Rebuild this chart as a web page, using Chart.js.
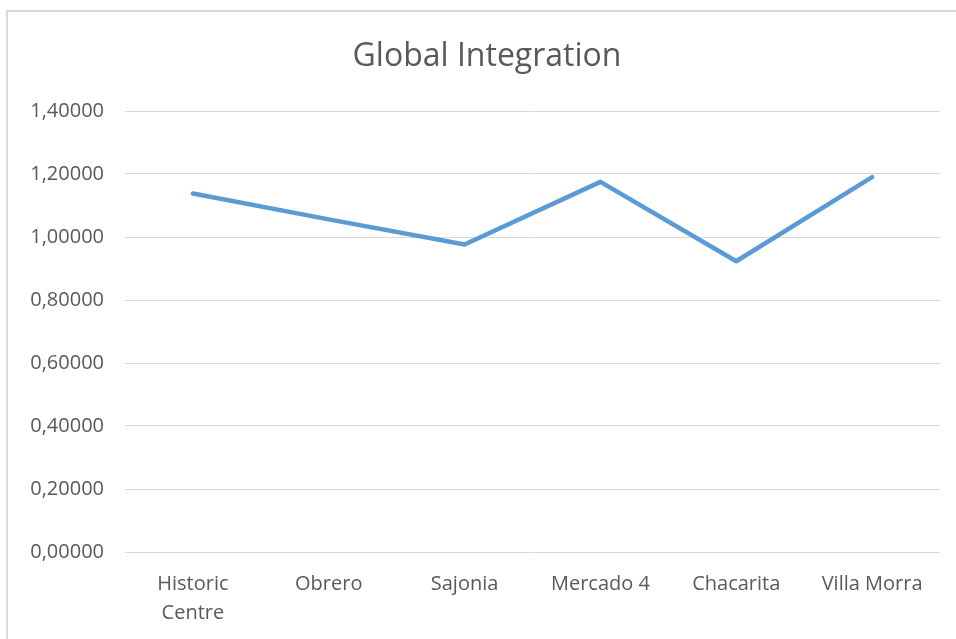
<!DOCTYPE html>
<html>
<head>
<meta charset="utf-8">
<script src="https://cdn.jsdelivr.net/npm/chart.js@4.4.0/dist/chart.umd.min.js"></script>
<style>
    html, body { margin: 0; padding: 0; background: #fff; }
    .frame {
        position: absolute; left: 6px; top: 10px; width: 960px; height: 640px;
        border-left: 2px solid #d9d9d9; border-top: 2px solid #d9d9d9;
        box-sizing: border-box;
    }
    .wrap { position: absolute; left: 0; top: 0; width: 956px; height: 639px; }
</style>
</head>
<body>
<div class="frame"></div>
<div class="wrap"><canvas id="integrationChart" width="956" height="639"></canvas></div>
<script>
let districts = [['Historic', 'Centre'], 'Obrero', 'Sajonia', 'Mercado 4', 'Chacarita', 'Villa Morra'];
let globalIntegration = [1.138, 1.056, 0.976, 1.175, 0.923, 1.190];
let yTicks = [0, 0.2, 0.4, 0.6, 0.8, 1.0, 1.2, 1.4];
let chartTitle = 'Global Integration';

let textColor = '#595959';
let gridColor = '#d9d9d9';
let fontFamily = "'Open Sans', 'Noto Sans', sans-serif";

// title is drawn by hand so it can sit centred over the whole frame, not just the plot
let frameTitle = {
    id: 'frameTitle',
    afterDraw: function (chart) {
        let c = chart.ctx;
        c.save();
        c.fillStyle = textColor;
        c.font = '32px ' + fontFamily;
        c.textAlign = 'center';
        c.textBaseline = 'middle';
        c.fillText(chartTitle, 487, 57);
        c.restore();
    }
};

let ctx = document.getElementById('integrationChart');
new Chart(ctx, {
    type: 'line',
    data: {
        labels: districts,
        datasets: [{
            label: chartTitle,
            data: globalIntegration,
            borderColor: '#5b9bd5',
            backgroundColor: 'transparent',
            borderWidth: 4.5,
            borderCapStyle: 'round',
            borderJoinStyle: 'round',
            lineTension: 0,
            fill: false,
            pointRadius: 0,
            pointHoverRadius: 0
        }]
    },
    plugins: [frameTitle],
    options: {
        responsive: false,
        animation: false,
        layout: { padding: { left: 0, right: 16, top: 111, bottom: 0 } },
        plugins: {
            legend: { display: false },
            tooltip: { enabled: false },
            title: { display: false }
        },
        scales: {
            x: {
                offset: true,
                grid: { display: false, drawTicks: false },
                border: { display: false },
                ticks: {
                    color: textColor,
                    padding: 18,
                    maxRotation: 0,
                    autoSkip: false,
                    font: { family: fontFamily, size: 20, lineHeight: 1.45 }
                },
                afterFit: function (scale) { scale.height = 87; }
            },
            y: {
                min: 0,
                max: 1.4,
                afterBuildTicks: function (scale) {
                    scale.ticks = yTicks.map(v => ({ value: v }));
                },
                grid: { color: gridColor, lineWidth: 1, drawTicks: false },
                border: { display: false },
                ticks: {
                    color: textColor,
                    padding: 21,
                    font: { family: fontFamily, size: 20 },
                    callback: function (value) {
                        return Number(value).toFixed(5).replace('.', ',');
                    }
                },
                afterFit: function (scale) { scale.width = 125; }
            }
        }
    }
});
</script>
</body>
</html>
